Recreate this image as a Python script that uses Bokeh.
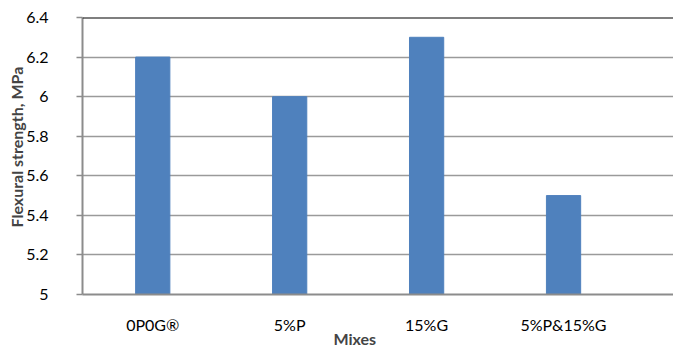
from bokeh.plotting import figure
from bokeh.models import FixedTicker, Span, Range1d, Title
from bokeh.embed import file_html
from bokeh.resources import INLINE

# Flexural strength per mix
mixes = ["0P0G®", "5%P", "15%G", "5%P&15%G"]
strength = [6.2, 6.0, 6.3, 5.5]
y_ticks = [5, 5.2, 5.4, 5.6, 5.8, 6, 6.2, 6.4]
y_tick_labels = ["5", "5.2", "5.4", "5.6", "5.8", "6", "6.2", "6.4"]

FONT = "Lato"
BAR = "#4F81BD"

xpos = [i + 0.5 for i in range(len(mixes))]

p = figure(width=673, height=347, output_backend="svg", toolbar_location=None,
           x_range=Range1d(-0.013, 4.303), y_range=Range1d(5, 6.4),
           min_border_left=82, min_border_right=0, min_border_top=17,
           min_border_bottom=53)
p.outline_line_color = None
p.background_fill_color = "white"
p.border_fill_color = "white"

p.vbar(x=xpos, top=strength, bottom=5, width=0.25, color=BAR)

# y axis
p.yaxis.ticker = FixedTicker(ticks=y_ticks)
p.yaxis.major_label_overrides = {t: s for t, s in zip(y_ticks, y_tick_labels)}
p.yaxis.axis_line_color = "#8c8c8c"
p.yaxis.axis_line_width = 2
p.yaxis.major_tick_line_color = "#8c8c8c"
p.yaxis.major_tick_line_width = 1.5
p.yaxis.major_tick_out = 6
p.yaxis.major_tick_in = 0
p.yaxis.minor_tick_line_color = None
p.yaxis.major_label_text_font = FONT
p.yaxis.major_label_text_font_size = "16px"
p.yaxis.major_label_text_color = "black"
p.yaxis.major_label_standoff = 28

# x axis
p.xaxis.ticker = FixedTicker(ticks=xpos)
p.xaxis.major_label_overrides = {x: m for x, m in zip(xpos, mixes)}
p.xaxis.axis_line_color = "#8c8c8c"
p.xaxis.axis_line_width = 2
p.xaxis.major_tick_line_color = None
p.xaxis.minor_tick_line_color = None
p.xaxis.major_label_text_font = FONT
p.xaxis.major_label_text_font_size = "16px"
p.xaxis.major_label_text_color = "black"
p.xaxis.major_label_standoff = 14

p.xgrid.grid_line_color = None
p.ygrid.ticker = FixedTicker(ticks=y_ticks[1:-1])
p.ygrid.grid_line_color = "#9a9a9a"
p.ygrid.grid_line_width = 1.5

p.add_layout(Span(location=6.4, dimension="width", line_color="black", line_width=2))

# axis titles
p.add_layout(Title(text="Mixes", text_font=FONT, text_font_size="16px",
                   text_font_style="bold", align="left", offset=251, standoff=-19),
             "below")
p.add_layout(Title(text="Flexural strength, MPa", text_font=FONT, text_font_size="16px",
                   text_font_style="bold", align="left", offset=67, standoff=-4),
             "left")

open("out.html", "w").write(file_html(p, INLINE))
